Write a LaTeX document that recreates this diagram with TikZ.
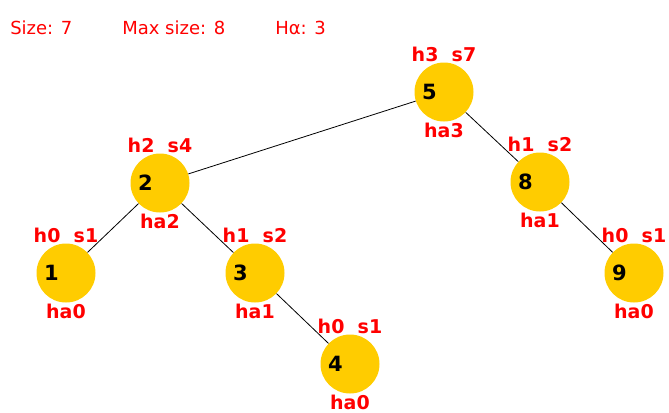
\documentclass[tikz,border=0pt]{standalone}
\usepackage{fontspec}
\setmainfont{DejaVu Sans}
\usetikzlibrary{positioning}
\definecolor{gold}{HTML}{FFCC00}
\definecolor{hred}{HTML}{FF0000}

\begin{document}
\begin{tikzpicture}[x=0.75pt,y=-0.75pt,
  avl/.style={circle,fill=gold,minimum size=44.25pt,inner sep=0pt},
  key/.style={font=\fontsize{15.75}{16}\selectfont\bfseries,inner sep=0pt},
  tag/.style={font=\fontsize{14.25}{15}\selectfont\bfseries,text=hred,inner sep=0pt},
  info/.style={font=\fontsize{13.5}{14}\selectfont,text=hred,anchor=base west,inner sep=0pt},
  edge/.style={draw=black,line width=0.6pt}]
\useasboundingbox (0,0) rectangle (669,412);
% header
\node[info] (size) at (10,34) {Size: 7};
\node[info] (max) at (122,34) {Max size: 8};
\node[info] (halpha) at (275,34) {Hα: 3};
% tree nodes: name/x/y/height/size/ha
\foreach \n/\px/\py/\h/\s/\ha in {5/444/92/3/7/3,2/160/183/2/4/2,8/540/182/1/2/1,
    1/66/273/0/1/0,3/255/273/1/2/1,9/634/273/0/1/0,4/350/364/0/1/0}{
  \node[avl] (n\n) at (\px,\py) {};
  \node[key,xshift=-11pt] (k\n) at (n\n.center) {\n};
  \node[tag,above=0pt of n\n] (hs\n) {h\h\ \ s\s};
  \node[tag,below=0.5pt of n\n] (ha\n) {ha\ha};
}
% links
\foreach \a/\b in {5/2,2/1,2/3,3/4,5/8,8/9}
  \draw[edge] (n\a) -- (n\b);
\end{tikzpicture}
\end{document}
